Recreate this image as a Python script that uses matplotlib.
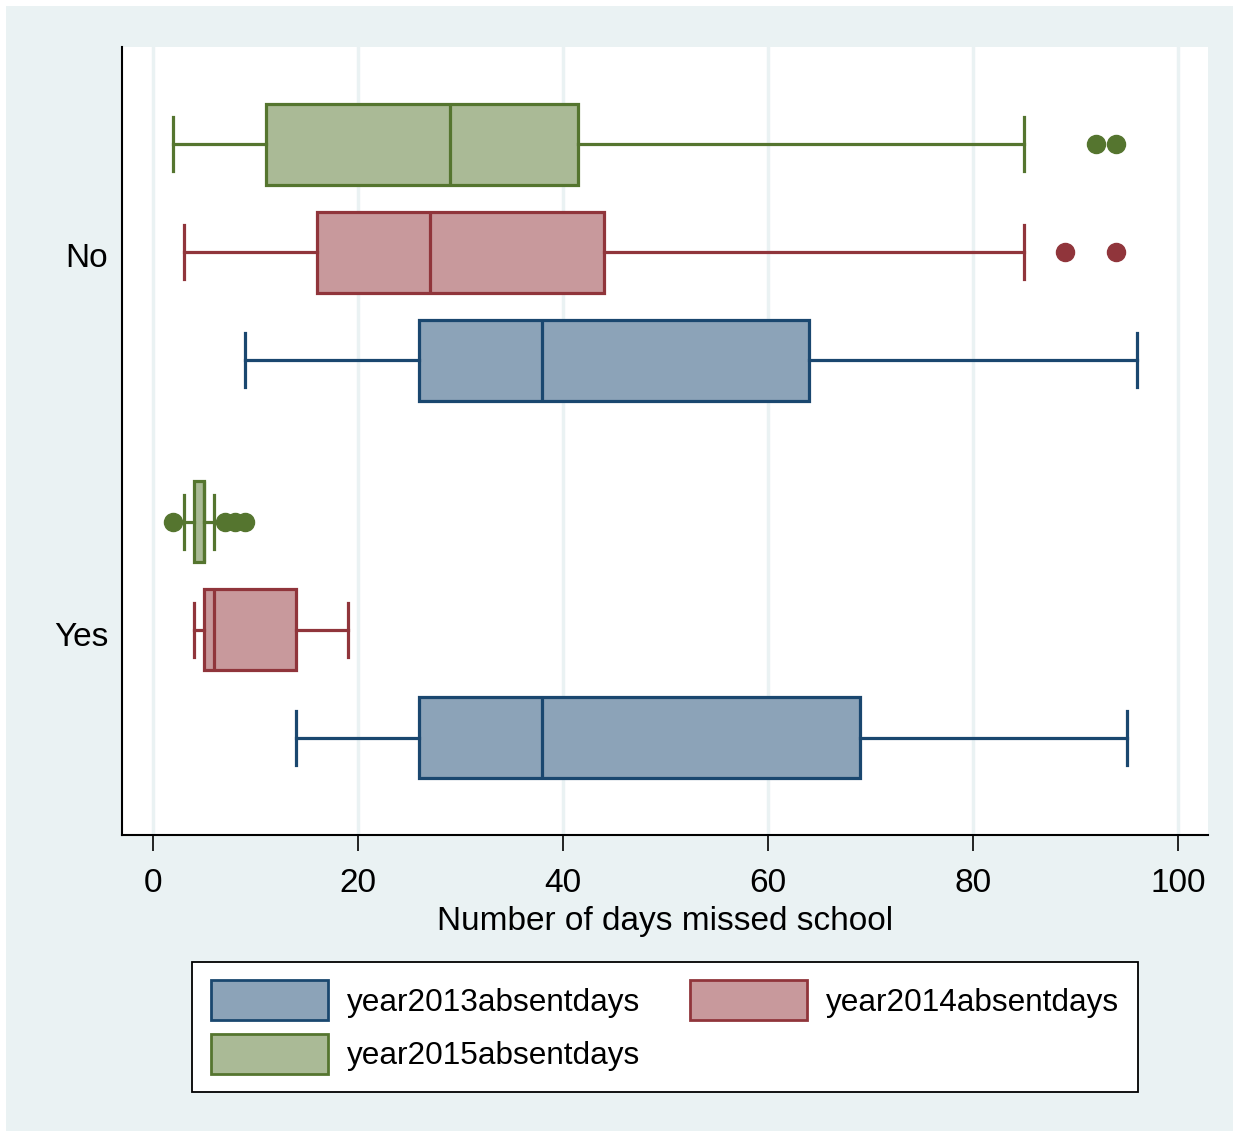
import matplotlib
matplotlib.use('Agg')
import matplotlib.pyplot as plt
from matplotlib.patches import Patch, Rectangle

plt.rcParams['font.family'] = ['Liberation Sans Narrow', 'Liberation Sans', 'DejaVu Sans']

# Data (days missed school), summary stats per box
groups = ['No', 'Yes']
series = ['year2013absentdays', 'year2014absentdays', 'year2015absentdays']

# [whisker low, q1, median, q3, whisker high]
y2013_no = [9, 26, 38, 64, 96]
y2013_yes = [14, 26, 38, 69, 95]
y2014_no = [3, 16, 27, 44, 85]
y2014_yes = [4, 5, 6, 14, 19]
y2015_no = [2, 11, 29, 41.5, 85]
y2015_yes = [3, 4, 5, 5, 6]

fliers_2013_no = []
fliers_2013_yes = []
fliers_2014_no = [89, 94]
fliers_2014_yes = []
fliers_2015_no = [92, 94]
fliers_2015_yes = [2, 7, 8, 9]

line_colors = {'year2013absentdays': '#1A476F',
               'year2014absentdays': '#90353B',
               'year2015absentdays': '#55752F'}
fill_colors = {'year2013absentdays': '#8CA3B8',
               'year2014absentdays': '#C8999C',
               'year2015absentdays': '#AABA96'}

stats = {
    'year2013absentdays': [(y2013_no, fliers_2013_no), (y2013_yes, fliers_2013_yes)],
    'year2014absentdays': [(y2014_no, fliers_2014_no), (y2014_yes, fliers_2014_yes)],
    'year2015absentdays': [(y2015_no, fliers_2015_no), (y2015_yes, fliers_2015_yes)],
}

def to_bxp(vals, fl):
    return {'whislo': vals[0], 'q1': vals[1], 'med': vals[2],
            'q3': vals[3], 'whishi': vals[4], 'fliers': fl}

fs = 24

fig = plt.figure(figsize=(12.39, 11.37), dpi=100, facecolor='white')
bg = Rectangle((6 / 1239, 6 / 1137), 1 - 12 / 1239, 1 - 12 / 1137,
               transform=fig.transFigure, facecolor='#EAF2F3',
               edgecolor='none', zorder=-10)
fig.add_artist(bg)
ax = fig.add_axes([122 / 1239, 1 - 835 / 1137, (1208 - 122) / 1239, (835 - 47) / 1137])
ax.set_zorder(1)
ax.set_facecolor('white')

# group base position (top box) and offset within group: 2015 top, 2013 bottom
group_base = {'No': 1.0, 'Yes': 4.5}
offsets = {'year2015absentdays': 0, 'year2014absentdays': 1, 'year2013absentdays': 2}

lw = 2.3
for s in series:
    lc = line_colors[s]
    bstats = [to_bxp(v, f) for v, f in stats[s]]
    pos = [group_base[g] + offsets[s] for g in groups]
    ax.bxp(bstats, positions=pos, widths=0.75, orientation='horizontal',
           patch_artist=True, manage_ticks=False, capwidths=0.5,
           boxprops=dict(facecolor=fill_colors[s], edgecolor=lc, linewidth=lw),
           medianprops=dict(color=lc, linewidth=lw),
           whiskerprops=dict(color=lc, linewidth=lw),
           capprops=dict(color=lc, linewidth=lw),
           flierprops=dict(marker='o', markerfacecolor=lc, markeredgecolor=lc,
                           markersize=13, linestyle='none'),
           zorder=3)

ax.set_xlim(-3.02, 102.93)
ax.set_ylim(7.4, 0.1)

ax.set_xticks([0, 20, 40, 60, 80, 100])
ax.set_yticks([2.03, 5.54])
ax.set_yticklabels(groups)
ax.tick_params(axis='x', length=11.5, width=1.2, pad=12, labelsize=fs)
ax.tick_params(axis='y', length=0, pad=10, labelsize=fs)
ax.grid(axis='x', color='#EAF2F3', linewidth=2.5, zorder=0)
ax.set_axisbelow(True)

for side in ['top', 'right']:
    ax.spines[side].set_visible(False)
for side in ['left', 'bottom']:
    ax.spines[side].set_linewidth(1.5)
    ax.spines[side].set_color('black')

ax.set_xlabel('Number of days missed school', fontsize=fs, labelpad=5)

# legend: row-major order 2013, 2014 / 2015
lfs = 22.7
handles = [Patch(facecolor=fill_colors[s], edgecolor=line_colors[s], linewidth=2, label=s)
           for s in ['year2013absentdays', 'year2015absentdays', 'year2014absentdays']]
leg = fig.legend(handles=handles, ncol=2, loc='center',
                 bbox_to_anchor=(665 / 1239, 1 - 1027 / 1137),
                 fontsize=lfs, frameon=True, fancybox=False, edgecolor='black',
                 facecolor='white', framealpha=1,
                 handlelength=3.7, handleheight=1.55, handletextpad=0.6,
                 columnspacing=1.6, labelspacing=0.45, borderpad=0.6)
leg.get_frame().set_linewidth(1.3)

fig.savefig('out.png', dpi=100, facecolor=fig.get_facecolor())
